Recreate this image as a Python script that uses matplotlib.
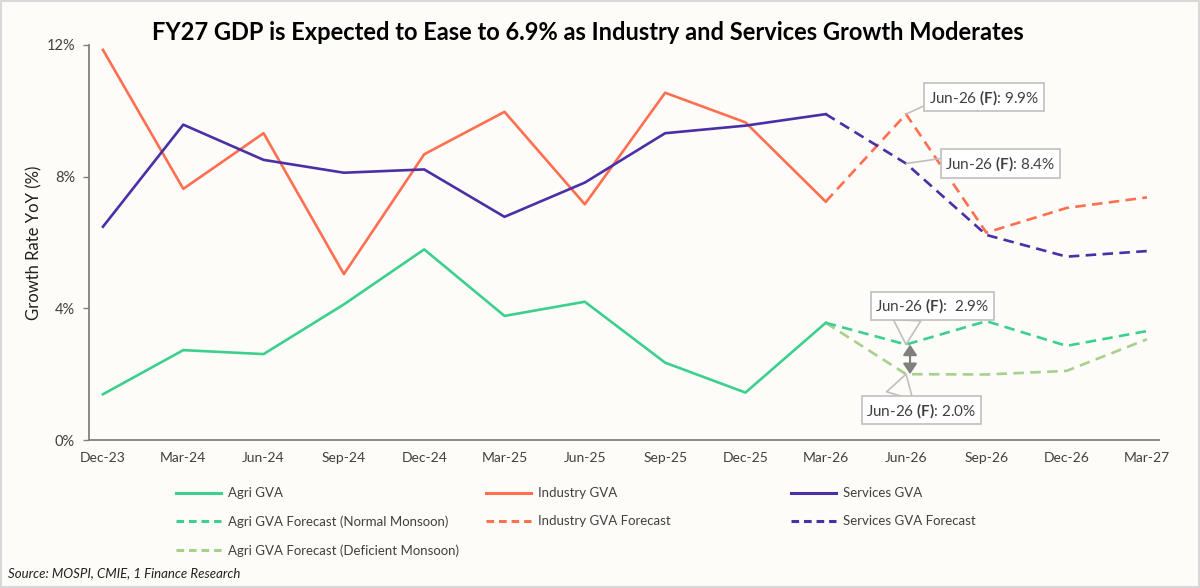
import numpy as np
import matplotlib
matplotlib.use("Agg")
import matplotlib.pyplot as plt
from matplotlib.patches import Rectangle
from matplotlib.lines import Line2D

plt.rcParams["font.family"] = ["Lato", "DejaVu Sans"]
plt.rcParams["mathtext.fontset"] = "custom"
plt.rcParams["mathtext.rm"] = "Lato"
plt.rcParams["mathtext.bf"] = "Lato:bold"

nan = np.nan
quarters = ["Dec-23", "Mar-24", "Jun-24", "Sep-24", "Dec-24", "Mar-25", "Jun-25",
            "Sep-25", "Dec-25", "Mar-26", "Jun-26", "Sep-26", "Dec-26", "Mar-27"]

agri = [1.39, 2.73, 2.61, 4.12, 5.79, 3.77, 4.20, 2.35, 1.44, 3.56, nan, nan, nan, nan]
industry = [11.85, 7.63, 9.32, 5.04, 8.68, 9.97, 7.16, 10.55, 9.65, 7.24, nan, nan, nan, nan]
services = [6.48, 9.58, 8.51, 8.12, 8.22, 6.78, 7.82, 9.32, 9.55, 9.90, nan, nan, nan, nan]

agri_normal = [nan] * 9 + [3.56, 2.9, 3.61, 2.86, 3.31]
agri_deficient = [nan] * 9 + [3.56, 2.0, 1.99, 2.10, 3.06]
industry_fc = [nan] * 9 + [7.24, 9.9, 6.30, 7.05, 7.37]
services_fc = [nan] * 9 + [9.90, 8.4, 6.23, 5.57, 5.74]

c_agri = "#3DCF8E"
c_ind = "#FF6F50"
c_srv = "#4A2FA6"
c_def = "#A8D08C"
bg = "#FDFCF8"
txt = "#404040"

fig = plt.figure(figsize=(12, 5.88), dpi=100, facecolor=bg)
ax = fig.add_axes([89 / 1200, 1 - 440 / 588, (1159 - 89) / 1200, (440 - 45) / 588])
ax.set_facecolor(bg)

x = np.arange(len(quarters))
lw = 1.9
dash = (4, 2.4)
ax.plot(x, agri, color=c_agri, lw=lw)
ax.plot(x, industry, color=c_ind, lw=lw)
ax.plot(x, services, color=c_srv, lw=lw)
ax.plot(x, agri_deficient, color=c_def, lw=lw, dashes=dash)
ax.plot(x, agri_normal, color=c_agri, lw=lw, dashes=dash)
ax.plot(x, industry_fc, color=c_ind, lw=lw, dashes=dash)
ax.plot(x, services_fc, color=c_srv, lw=lw, dashes=dash)

ax.set_xlim(-0.174, 13.15)
ax.set_ylim(0, 12)
ax.set_yticks([0, 4, 8, 12])
ax.set_yticklabels(["0%", "4%", "8%", "12%"])
ax.set_xticks(x)
ax.set_xticklabels(quarters)
ax.tick_params(axis="y", length=4, width=1, color="#808080", pad=6, labelsize=10.5, labelcolor=txt)
ax.tick_params(axis="x", length=0, pad=9, labelsize=10, labelcolor=txt)
for s in ["top", "right"]:
    ax.spines[s].set_visible(False)
for s in ["left", "bottom"]:
    ax.spines[s].set_color("#808080")
    ax.spines[s].set_linewidth(1.3)
ax.set_ylabel("Growth Rate YoY (%)", fontsize=12, color="#202020", labelpad=3)

fig.text(0.49, 1 - 32 / 588, "FY27 GDP is Expected to Ease to 6.9% as Industry and Services Growth Moderates",
         ha="center", va="center", fontsize=17, fontweight="bold", color="black")

box = dict(boxstyle="square,pad=0.3", fc="white", ec="#BFBFBF", lw=1.2)
ann_kw = dict(fontsize=11, color=txt, textcoords="offset points", ha="center", va="center", bbox=box)

ax.annotate(r"Jun-26 $\mathbf{(F)}$: 9.9%", xy=(10, 9.9), xytext=(56, 12),
            arrowprops=dict(arrowstyle="-", color="#BFBFBF", lw=1.2, shrinkA=0, shrinkB=0,
                            relpos=(0.03, 0.25)), **ann_kw)
ax.annotate(r"Jun-26 $\mathbf{(F)}$: 8.4%", xy=(10, 8.4), xytext=(68, 0),
            arrowprops=dict(arrowstyle="-", color="#BFBFBF", lw=1.2, shrinkA=0, shrinkB=0,
                            relpos=(0.0, 0.8)), **ann_kw)
ax.annotate(r"Jun-26 $\mathbf{(F)}$:  2.9%", xy=(10, 2.9), xytext=(19, 28),
            arrowprops=dict(arrowstyle="wedge,tail_width=1.8,shrink_factor=0.5", fc=bg, ec="#BFBFBF",
                            lw=1.2, shrinkA=0, shrinkB=0, relpos=(0.28, 0.0)), **ann_kw)
ax.annotate(r"Jun-26 $\mathbf{(F)}$: 2.0%", xy=(10, 2.0), xytext=(11, -26),
            arrowprops=dict(arrowstyle="wedge,tail_width=1.8,shrink_factor=0.5", fc=bg, ec="#BFBFBF",
                            lw=1.2, shrinkA=0, shrinkB=0, relpos=(0.29, 1.0)), **ann_kw)
ax.annotate("", xy=(10.05, 2.0), xytext=(10.05, 2.9),
            arrowprops=dict(arrowstyle="<|-|>,head_length=0.45,head_width=0.3", color="#7F7F7F",
                            lw=1.5, shrinkA=0, shrinkB=0, mutation_scale=14))

# legend in three fixed columns
cols = [
    [("Agri GVA", c_agri, None), ("Agri GVA Forecast (Normal Monsoon)", c_agri, dash),
     ("Agri GVA Forecast (Deficient Monsoon)", c_def, dash)],
    [("Industry GVA", c_ind, None), ("Industry GVA Forecast", c_ind, dash)],
    [("Services GVA", c_srv, None), ("Services GVA Forecast", c_srv, dash)],
]
col_x = [171 / 1200, 481 / 1200, 786 / 1200]
for cx, entries in zip(col_x, cols):
    handles = []
    labels = []
    for lab, col, d in entries:
        if d is None:
            handles.append(Line2D([], [], color=col, lw=2.2))
        else:
            handles.append(Line2D([], [], color=col, lw=2.2, dashes=(2.5, 1.6)))
        labels.append(lab)
    fig.legend(handles, labels, loc="upper left", bbox_to_anchor=(cx, 1 - 482 / 588),
               frameon=False, fontsize=9.5, handlelength=3.4, handletextpad=0.5,
               labelspacing=1.22, labelcolor=txt, borderaxespad=0)

fig.text(8 / 1200, 1 - 573 / 588, "Source: MOSPI, CMIE, 1 Finance Research", fontsize=9.5,
         style="italic", color="#202020", va="center", ha="left")

fig.patches.append(Rectangle((0, 0), 1, 1, transform=fig.transFigure, fill=False,
                             ec="#D9D9D9", lw=3))

fig.savefig("out.png", dpi=100, facecolor=bg)
